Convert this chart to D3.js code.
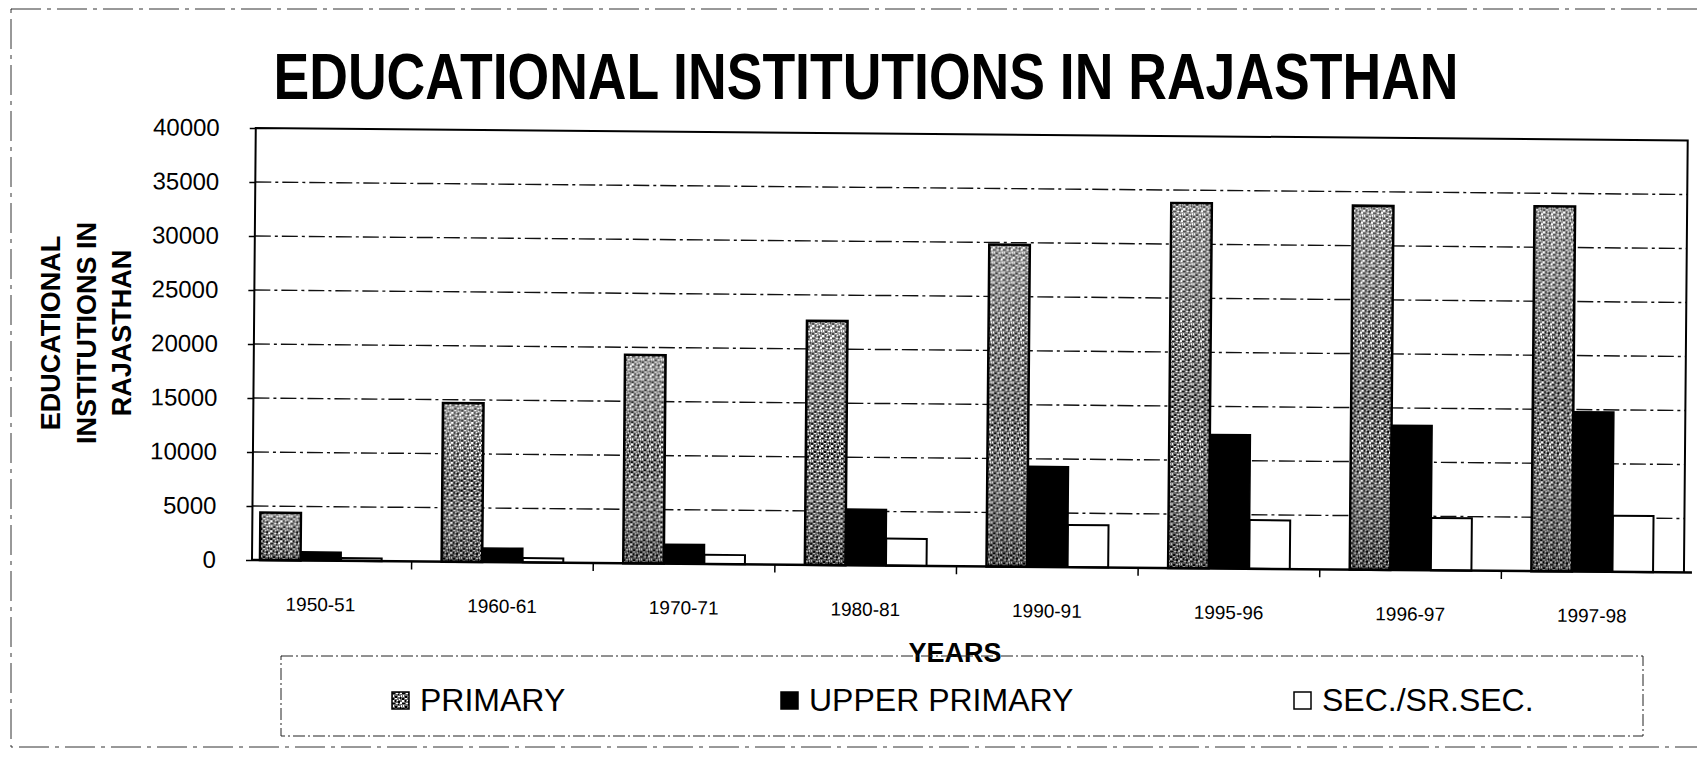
<!doctype html>
<html>
<head>
<meta charset="utf-8">
<style>
    body { margin: 0; background: #fff; }
    svg text { font-family: "Liberation Sans", Arial, sans-serif; fill: #000; }
    .grid line { stroke: #111; stroke-width: 1.4; stroke-dasharray: 16,4,3,4; }
    .yaxis text { font-size: 24px; }
    .xaxis text { font-size: 19px; }
</style>
</head>
<body>
<div id="chart"></div>
<script src="https://d3js.org/d3.v7.min.js"></script>
<script>

// data
var years = ["1950-51", "1960-61", "1970-71", "1980-81", "1990-91", "1995-96", "1996-97", "1997-98"];
var primary = [4400, 14700, 19300, 22600, 29800, 33800, 33700, 33800];
var upperPrimary = [800, 1300, 1800, 5200, 9300, 12400, 13400, 14800];
var secondary = [250, 400, 850, 2500, 3900, 4500, 4850, 5200];
var seriesNames = ["PRIMARY", "UPPER PRIMARY", "SEC./SR.SEC."];
var yTicks = [0, 5000, 10000, 15000, 20000, 25000, 30000, 35000, 40000];

var W = 1697, H = 763;
var plotL = 252, plotR = 1684, plotT = 128, plotB = 560;
var tilt = 0.5; // the scanned page is slightly rotated

var svg = d3.select("#chart").append("svg")
    .attr("width", W)
    .attr("height", H);

svg.append("rect").attr("width", W).attr("height", H).attr("fill", "#fff");

// speckled fill for the primary bars
var defs = svg.append("defs");
var pat = defs.append("pattern")
    .attr("id", "speckle")
    .attr("patternUnits", "userSpaceOnUse")
    .attr("width", 10).attr("height", 10);
pat.append("rect").attr("width", 10).attr("height", 10).attr("fill", "#6e6e6e");
[[0,0,2,2],[4,3,2,1],[1,5,1,2],[6,6,2,1],[5,0,1,1],[8,2,2,2],[3,8,2,1],[7,9,1,1],[9,5,1,2]].forEach(function(r) {
    pat.append("rect").attr("x", r[0]).attr("y", r[1]).attr("width", r[2]).attr("height", r[3]).attr("fill", "#fff");
});
[[3,0,1,2],[6,1,2,2],[0,3,2,1],[3,6,2,2],[2,3,1,1],[8,7,1,2],[0,8,2,2],[6,4,1,1]].forEach(function(r) {
    pat.append("rect").attr("x", r[0]).attr("y", r[1]).attr("width", r[2]).attr("height", r[3]).attr("fill", "#000");
});
var grad = defs.append("linearGradient")
    .attr("id", "shade")
    .attr("x1", 0).attr("y1", 0).attr("x2", 0).attr("y2", 1);
grad.append("stop").attr("offset", "0%").attr("stop-color", "#fff").attr("stop-opacity", 0.3);
grad.append("stop").attr("offset", "55%").attr("stop-color", "#fff").attr("stop-opacity", 0);
grad.append("stop").attr("offset", "100%").attr("stop-color", "#000").attr("stop-opacity", 0.3);

// outer (chart area) border from the scan
svg.append("rect")
    .attr("x", 11).attr("y", 9)
    .attr("width", W).attr("height", 738)
    .attr("fill", "none")
    .attr("stroke", "#333")
    .attr("stroke-width", 1)
    .attr("stroke-dasharray", "30,6,4,6");

// title
svg.append("text")
    .attr("x", 866)
    .attr("y", 99)
    .attr("text-anchor", "middle")
    .attr("font-size", "64px")
    .attr("font-weight", "bold")
    .attr("textLength", 1185)
    .attr("lengthAdjust", "spacingAndGlyphs")
    .text("EDUCATIONAL INSTITUTIONS IN RAJASTHAN");

// scales
var x = d3.scaleBand()
    .domain(years)
    .range([plotL, plotR])
    .paddingInner(0.33)
    .paddingOuter(0.107)
    .align(0.205);

var y = d3.scaleLinear()
    .domain([0, 40000])
    .range([plotB, plotT]);

var bw = x.bandwidth() / 3;

var plot = svg.append("g")
    .attr("transform", "rotate(" + tilt + "," + plotL + "," + plotB + ")");

// gridlines
plot.append("g")
    .attr("class", "grid")
    .selectAll("line")
    .data(yTicks.filter(function(d) { return d > 0 && d < 40000; }))
    .enter().append("line")
    .attr("x1", plotL).attr("x2", plotR)
    .attr("y1", function(d) { return y(d); })
    .attr("y2", function(d) { return y(d); });

// y axis
var yAxis = plot.append("g")
    .attr("class", "yaxis")
    .attr("transform", "translate(" + plotL + ",0)")
    .call(d3.axisLeft(y).tickValues(yTicks).tickSize(6).tickPadding(30).tickFormat(d3.format("d")));
yAxis.select(".domain").remove();
yAxis.selectAll("line").attr("stroke", "#000").attr("stroke-width", 1.5);

svg.append("text")
    .attr("transform", "translate(60,333) rotate(-90)")
    .attr("text-anchor", "middle")
    .attr("font-size", "27px")
    .attr("font-weight", "bold")
    .selectAll("tspan")
    .data(["EDUCATIONAL", "INSTITUTIONS IN", "RAJASTHAN"])
    .enter().append("tspan")
    .attr("x", 0)
    .attr("dy", function(d, i) { return i === 0 ? 0 : 35.5; })
    .text(function(d) { return d; });

// bars
var series = [
    { name: seriesNames[0], values: primary, fill: "url(#speckle)", sw: 2.5 },
    { name: seriesNames[1], values: upperPrimary, fill: "#000", sw: 1.5 },
    { name: seriesNames[2], values: secondary, fill: "#fff", sw: 2 }
];

series.forEach(function(s, si) {
    var g = plot.append("g");
    g.selectAll("rect")
        .data(s.values)
        .enter().append("rect")
        .attr("x", function(d, i) { return x(years[i]) + si * bw; })
        .attr("y", function(d) { return y(d); })
        .attr("width", bw)
        .attr("height", function(d) { return y(0) - y(d); })
        .attr("fill", s.fill)
        .attr("stroke", "#000")
        .attr("stroke-width", s.sw);
    if (si === 0) {
        g.selectAll("rect.shade")
            .data(s.values)
            .enter().append("rect")
            .attr("class", "shade")
            .attr("x", function(d, i) { return x(years[i]) + 1.5; })
            .attr("y", function(d) { return y(d) + 1.5; })
            .attr("width", bw - 3)
            .attr("height", function(d) { return Math.max(0, y(0) - y(d) - 3); })
            .attr("fill", "url(#shade)");
    }
});

// plot frame
plot.append("path")
    .attr("d", "M" + plotL + "," + plotB + "V" + plotT + "H" + plotR + "V" + plotB)
    .attr("fill", "none")
    .attr("stroke", "#000")
    .attr("stroke-width", 2);
plot.append("line")
    .attr("x1", plotL).attr("x2", plotR + 8)
    .attr("y1", plotB).attr("y2", plotB)
    .attr("stroke", "#000")
    .attr("stroke-width", 2.5);

// x axis: labels under bands, ticks between bands
var step = x.step();
var xAxis = plot.append("g")
    .attr("class", "xaxis")
    .attr("transform", "translate(0," + plotB + ")")
    .call(d3.axisBottom(x).tickSize(0).tickPadding(37));
xAxis.select(".domain").remove();

plot.append("g")
    .selectAll("line")
    .data(years.slice(1))
    .enter().append("line")
    .attr("x1", function(d) { return x(d) - x.paddingInner() * step / 2; })
    .attr("x2", function(d) { return x(d) - x.paddingInner() * step / 2; })
    .attr("y1", plotB)
    .attr("y2", plotB + 8)
    .attr("stroke", "#000")
    .attr("stroke-width", 1.5);

svg.append("text")
    .attr("x", 955)
    .attr("y", 662)
    .attr("text-anchor", "middle")
    .attr("font-size", "27px")
    .attr("font-weight", "bold")
    .text("YEARS");

// legend
svg.append("rect")
    .attr("x", 281).attr("y", 656)
    .attr("width", 1362).attr("height", 80)
    .attr("fill", "none")
    .attr("stroke", "#222")
    .attr("stroke-width", 1)
    .attr("stroke-dasharray", "12,3,2,3");

var legendX = [392, 781, 1294];
var legend = svg.append("g")
    .selectAll("g")
    .data(series)
    .enter().append("g")
    .attr("transform", function(d, i) { return "translate(" + legendX[i] + ",0)"; });
legend.append("rect")
    .attr("x", 0).attr("y", 692)
    .attr("width", 17).attr("height", 17)
    .attr("fill", function(d) { return d.fill; })
    .attr("stroke", "#000")
    .attr("stroke-width", 1.5);
legend.append("text")
    .attr("x", 28)
    .attr("y", 711)
    .attr("font-size", "32px")
    .text(function(d) { return d.name; });

</script>
</body>
</html>
